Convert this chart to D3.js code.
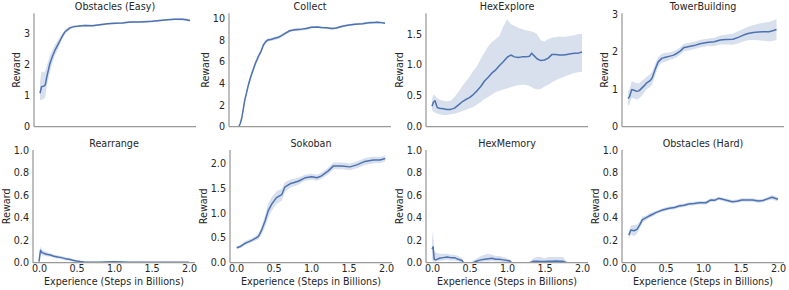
<!DOCTYPE html>
<html><head><meta charset="utf-8">
<script src="https://cdn.jsdelivr.net/npm/d3@7"></script>
<style>
body{margin:0;background:#fff}
svg text{font-family:"DejaVu Sans",sans-serif;fill:#262626}
</style>
</head><body><svg id="c" width="789" height="290"></svg>
<script>
// ---------- data ----------
const titles = ["Obstacles (Easy)", "Collect", "HexExplore", "TowerBuilding",
                "Rearrange", "Sokoban", "HexMemory", "Obstacles (Hard)"];
const xTicks = [0, 0.5, 1.0, 1.5, 2.0];
const yTicksList = [
  [0, 1, 2, 3], [0, 2, 4, 6, 8, 10], [0, 0.5, 1.0, 1.5], [0, 1, 2, 3],
  [0, 0.2, 0.4, 0.6, 0.8, 1.0], [0, 0.5, 1.0, 1.5, 2.0], [0, 0.2, 0.4, 0.6, 0.8, 1.0], [0, 0.2, 0.4, 0.6, 0.8, 1.0]
];
const yMaxList = [3.66, 10.46, 1.835, 3.02, 1.0, 2.27, 1.0, 1.0];

// Obstacles (Easy)
const x1 = [0, 0.02, 0.05, 0.07, 0.09, 0.13, 0.17, 0.2, 0.24, 0.27, 0.3, 0.33, 0.36, 0.4, 0.45, 0.5, 0.6, 0.7, 0.8, 0.9, 1.0, 1.1, 1.2, 1.3, 1.4, 1.5, 1.6, 1.7, 1.8, 1.9, 1.95, 2.0];
const m1 = [1.08, 1.29, 1.31, 1.35, 1.6, 2.02, 2.3, 2.47, 2.65, 2.79, 2.93, 3.05, 3.12, 3.19, 3.23, 3.24, 3.27, 3.26, 3.29, 3.32, 3.34, 3.35, 3.38, 3.38, 3.39, 3.40, 3.43, 3.45, 3.47, 3.47, 3.45, 3.43];
const lo1 = [0.85, 0.86, 0.9, 0.95, 1.3, 1.75, 2.1, 2.3, 2.5, 2.68, 2.85, 2.98, 3.06, 3.14, 3.19, 3.21, 3.24, 3.23, 3.26, 3.29, 3.31, 3.32, 3.35, 3.35, 3.36, 3.37, 3.40, 3.42, 3.44, 3.43, 3.41, 3.39];
const hi1 = [1.45, 1.8, 1.75, 1.8, 1.95, 2.3, 2.5, 2.65, 2.8, 2.92, 3.02, 3.12, 3.18, 3.24, 3.27, 3.28, 3.30, 3.29, 3.32, 3.35, 3.37, 3.38, 3.41, 3.41, 3.42, 3.43, 3.46, 3.48, 3.50, 3.51, 3.49, 3.47];

// Collect
const x2 = [0.05, 0.07, 0.09, 0.11, 0.13, 0.16, 0.18, 0.21, 0.24, 0.27, 0.31, 0.35, 0.38, 0.41, 0.44, 0.48, 0.53, 0.58, 0.62, 0.67, 0.73, 0.8, 0.89, 0.95, 1.02, 1.1, 1.15, 1.22, 1.29, 1.35, 1.42, 1.5, 1.6, 1.7, 1.78, 1.85, 1.89, 1.95, 2.0];
const m2 = [0.0, 0.3, 0.8, 1.6, 2.45, 3.3, 3.9, 4.6, 5.2, 5.8, 6.45, 7.0, 7.55, 7.85, 8.0, 8.05, 8.15, 8.25, 8.4, 8.6, 8.85, 8.95, 9.0, 9.05, 9.18, 9.2, 9.15, 9.12, 9.05, 9.1, 9.25, 9.35, 9.45, 9.5, 9.58, 9.6, 9.64, 9.6, 9.55];
const s2 = [0.05, 0.1, 0.15, 0.2, 0.25, 0.25, 0.25, 0.25, 0.25, 0.25, 0.25, 0.2, 0.2, 0.2, 0.15, 0.15, 0.15, 0.15, 0.15, 0.15, 0.12, 0.12, 0.12, 0.12, 0.12, 0.1, 0.1, 0.1, 0.1, 0.1, 0.1, 0.1, 0.1, 0.1, 0.1, 0.1, 0.1, 0.1, 0.1];

// HexExplore
const x3 = [0, 0.02, 0.04, 0.07, 0.1, 0.15, 0.2, 0.25, 0.3, 0.35, 0.4, 0.45, 0.5, 0.55, 0.6, 0.65, 0.7, 0.75, 0.8, 0.85, 0.9, 0.95, 1.0, 1.05, 1.1, 1.15, 1.2, 1.25, 1.3, 1.33, 1.36, 1.4, 1.45, 1.5, 1.55, 1.6, 1.65, 1.7, 1.75, 1.8, 1.85, 1.9, 1.95, 2.0];
const m3 = [0.33, 0.40, 0.42, 0.31, 0.30, 0.29, 0.28, 0.28, 0.30, 0.35, 0.40, 0.44, 0.47, 0.52, 0.58, 0.65, 0.74, 0.80, 0.87, 0.92, 0.99, 1.05, 1.12, 1.16, 1.13, 1.12, 1.13, 1.13, 1.14, 1.19, 1.15, 1.10, 1.07, 1.08, 1.11, 1.17, 1.17, 1.16, 1.16, 1.17, 1.18, 1.19, 1.19, 1.21];
const lo3 = [0.27, 0.24, 0.23, 0.21, 0.20, 0.19, 0.19, 0.20, 0.21, 0.23, 0.25, 0.27, 0.30, 0.32, 0.36, 0.40, 0.45, 0.48, 0.52, 0.56, 0.58, 0.60, 0.62, 0.64, 0.66, 0.67, 0.68, 0.68, 0.66, 0.64, 0.62, 0.60, 0.61, 0.65, 0.68, 0.72, 0.75, 0.78, 0.80, 0.83, 0.85, 0.87, 0.88, 0.89];
const hi3 = [0.45, 0.52, 0.50, 0.46, 0.44, 0.42, 0.41, 0.42, 0.48, 0.56, 0.65, 0.73, 0.81, 0.90, 0.98, 1.10, 1.20, 1.30, 1.37, 1.42, 1.47, 1.62, 1.74, 1.66, 1.63, 1.60, 1.58, 1.56, 1.55, 1.54, 1.53, 1.50, 1.40, 1.38, 1.42, 1.44, 1.45, 1.46, 1.45, 1.46, 1.47, 1.48, 1.50, 1.50];

// TowerBuilding
const x4 = [0.0, 0.02, 0.05, 0.08, 0.12, 0.15, 0.18, 0.22, 0.25, 0.29, 0.32, 0.36, 0.4, 0.45, 0.5, 0.56, 0.6, 0.65, 0.7, 0.74, 0.8, 0.88, 0.96, 1.05, 1.15, 1.23, 1.3, 1.4, 1.47, 1.54, 1.6, 1.67, 1.74, 1.8, 1.88, 1.94, 1.98];
const m4 = [0.75, 0.8, 0.99, 0.97, 0.94, 0.96, 1.02, 1.1, 1.17, 1.22, 1.29, 1.51, 1.72, 1.82, 1.85, 1.88, 1.9, 1.95, 2.02, 2.1, 2.13, 2.16, 2.21, 2.24, 2.26, 2.31, 2.32, 2.33, 2.38, 2.44, 2.48, 2.51, 2.52, 2.53, 2.53, 2.56, 2.59];
const s4 = [0.2, 0.2, 0.22, 0.22, 0.22, 0.2, 0.2, 0.18, 0.17, 0.17, 0.17, 0.15, 0.13, 0.12, 0.12, 0.1, 0.1, 0.1, 0.1, 0.1, 0.1, 0.1, 0.1, 0.1, 0.11, 0.12, 0.13, 0.15, 0.16, 0.17, 0.18, 0.2, 0.22, 0.24, 0.26, 0.27, 0.28];

// Rearrange
const x5 = [0, 0.01, 0.02, 0.04, 0.06, 0.08, 0.1, 0.15, 0.2, 0.25, 0.3, 0.35, 0.4, 0.45, 0.5, 0.55, 0.6, 0.7, 0.8, 0.9, 1.0, 1.1, 1.2, 1.3, 1.4, 1.5, 1.6, 1.7, 1.8, 1.9, 2.0];
const m5 = [0.01, 0.06, 0.11, 0.09, 0.085, 0.08, 0.075, 0.068, 0.058, 0.05, 0.045, 0.036, 0.03, 0.022, 0.015, 0.01, 0.007, 0.005, 0.005, 0.006, 0.008, 0.006, 0.005, 0.005, 0.004, 0.004, 0.004, 0.004, 0.004, 0.004, 0.004];
const s5 = [0.01, 0.03, 0.035, 0.025, 0.02, 0.02, 0.018, 0.015, 0.015, 0.015, 0.015, 0.015, 0.013, 0.012, 0.01, 0.008, 0.006, 0.004, 0.004, 0.005, 0.006, 0.005, 0.004, 0.003, 0.003, 0.003, 0.003, 0.003, 0.003, 0.003, 0.003];

// Sokoban
const x6 = [0.01, 0.05, 0.12, 0.21, 0.27, 0.3, 0.34, 0.39, 0.43, 0.48, 0.54, 0.61, 0.65, 0.72, 0.83, 0.92, 1.01, 1.08, 1.14, 1.23, 1.3, 1.41, 1.52, 1.61, 1.72, 1.83, 1.92, 1.99];
const m6 = [0.3, 0.32, 0.39, 0.45, 0.5, 0.53, 0.65, 0.85, 1.05, 1.19, 1.31, 1.37, 1.52, 1.59, 1.64, 1.71, 1.73, 1.71, 1.75, 1.85, 1.95, 1.95, 1.93, 1.97, 2.04, 2.07, 2.07, 2.1];
const s6 = [0.03, 0.03, 0.04, 0.04, 0.05, 0.06, 0.08, 0.12, 0.14, 0.14, 0.13, 0.12, 0.1, 0.08, 0.07, 0.06, 0.06, 0.06, 0.06, 0.07, 0.07, 0.07, 0.07, 0.07, 0.07, 0.07, 0.06, 0.06];

// HexMemory
const x7 = [0, 0.015, 0.02, 0.03, 0.05, 0.1, 0.15, 0.2, 0.25, 0.3, 0.35, 0.4, 0.42, 0.5, 0.55, 0.6, 0.65, 0.7, 0.75, 0.8, 0.85, 0.9, 0.95, 1.0, 1.04, 1.06, 1.2, 1.3, 1.35, 1.4, 1.45, 1.5, 1.55, 1.6, 1.65, 1.7, 1.75, 1.78, 1.8, 1.9, 2.0];
const m7 = [0.12, 0.14, 0.1, 0.03, 0.025, 0.04, 0.045, 0.05, 0.045, 0.045, 0.03, 0.02, 0.0, 0.0, 0.0, 0.015, 0.025, 0.03, 0.035, 0.04, 0.03, 0.03, 0.025, 0.02, 0.015, 0.0, 0.0, 0.0, 0.012, 0.012, 0.01, 0.01, 0.012, 0.012, 0.015, 0.012, 0.012, 0.005, 0.0, 0.0, 0.0];
const lo7 = [0.04, 0, 0, 0.01, 0.01, 0.015, 0.02, 0.025, 0.02, 0.02, 0.01, 0.005, 0, 0, 0, 0, 0.005, 0.01, 0.01, 0.015, 0.01, 0.01, 0.005, 0.005, 0, 0, 0, 0, 0, 0, 0, 0, 0, 0, 0, 0, 0, 0, 0, 0, 0];
const hi7 = [0.2, 0.29, 0.2, 0.1, 0.09, 0.08, 0.08, 0.08, 0.07, 0.07, 0.06, 0.04, 0.0, 0.0, 0.02, 0.04, 0.06, 0.07, 0.08, 0.07, 0.06, 0.06, 0.05, 0.04, 0.03, 0.0, 0.0, 0.0, 0.04, 0.05, 0.05, 0.04, 0.05, 0.05, 0.05, 0.05, 0.05, 0.02, 0.0, 0.0, 0.0];

// Obstacles (Hard)
const x8 = [0.01, 0.04, 0.08, 0.12, 0.16, 0.19, 0.23, 0.28, 0.33, 0.37, 0.42, 0.46, 0.55, 0.62, 0.68, 0.75, 0.81, 0.88, 0.95, 1.04, 1.1, 1.16, 1.21, 1.3, 1.39, 1.45, 1.52, 1.59, 1.66, 1.74, 1.8, 1.84, 1.92, 1.97, 2.0];
const m8 = [0.245, 0.29, 0.284, 0.296, 0.34, 0.38, 0.395, 0.414, 0.43, 0.444, 0.458, 0.468, 0.483, 0.49, 0.503, 0.51, 0.521, 0.525, 0.532, 0.532, 0.556, 0.555, 0.571, 0.556, 0.541, 0.545, 0.556, 0.556, 0.556, 0.547, 0.552, 0.562, 0.58, 0.57, 0.562];
const s8 = [0.03, 0.04, 0.05, 0.04, 0.03, 0.03, 0.02, 0.02, 0.02, 0.015, 0.015, 0.015, 0.015, 0.015, 0.015, 0.015, 0.015, 0.015, 0.015, 0.015, 0.015, 0.015, 0.015, 0.015, 0.015, 0.015, 0.015, 0.015, 0.015, 0.015, 0.015, 0.015, 0.02, 0.02, 0.02];

// ---------- build panel table ----------
function withBand(x, m, lo, hi) {
  return x.map((v, i) => ({x: v, m: m[i], lo: lo[i], hi: hi[i]}));
}
function withSpread(x, m, s) {
  return x.map((v, i) => ({x: v, m: m[i], lo: m[i] - s[i], hi: m[i] + s[i]}));
}
const series = [
  withBand(x1, m1, lo1, hi1),
  withSpread(x2, m2, s2),
  withBand(x3, m3, lo3, hi3),
  withSpread(x4, m4, s4),
  withSpread(x5, m5, s5),
  withSpread(x6, m6, s6),
  withBand(x7, m7, lo7, hi7),
  withSpread(x8, m8, s8)
];

// ---------- layout ----------
const lefts = [[34, 229, 426, 622], [33, 230, 426, 622]];
const rowsY = [[13.3, 126.7], [150, 262.7]];
const W = 162;
const FS = 9.6;
const COLOR = "#4c72b0";

const svg = d3.select("#c");
const defs = svg.append("defs");

series.forEach((data, i) => {
  const row = i < 4 ? 0 : 1, col = i % 4;
  const x0 = lefts[row][col], [yT, yB] = rowsY[row];
  const xs = d3.scaleLinear().domain([-0.08, 2.08]).range([x0, x0 + W]);
  const ys = d3.scaleLinear().domain([0, yMaxList[i]]).range([yB, yT]);
  const g = svg.append("g");

  defs.append("clipPath").attr("id", "clip" + i)
    .append("rect").attr("x", x0).attr("y", yT).attr("width", W).attr("height", yB - yT);

  const plot = g.append("g").attr("clip-path", `url(#clip${i})`);
  plot.append("path").datum(data)
    .attr("d", d3.area().x(d => xs(d.x)).y0(d => ys(d.lo)).y1(d => ys(d.hi)))
    .attr("fill", COLOR).attr("fill-opacity", 0.22).attr("stroke", "none");
  plot.append("path").datum(data)
    .attr("d", d3.line().x(d => xs(d.x)).y(d => ys(d.m)))
    .attr("fill", "none").attr("stroke", COLOR).attr("stroke-width", 1.5)
    .attr("stroke-linejoin", "round");

  // y axis
  const fmt = Number.isInteger(yTicksList[i][1]) ? d3.format("d") : d3.format(".1f");
  const ya = g.append("g").attr("transform", `translate(${x0},0)`)
    .call(d3.axisLeft(ys).tickValues(yTicksList[i]).tickSize(0).tickPadding(4).tickFormat(fmt));
  ya.select(".domain").remove();
  ya.selectAll("text").attr("font-size", FS).attr("font-family", "DejaVu Sans").attr("fill", "#262626");
  ya.attr("font-size", null).attr("font-family", null);

  let maxW = 0;
  ya.selectAll("text").each(function () { maxW = Math.max(maxW, this.getBBox().width); });

  // x axis (labels only on bottom row)
  const xa = g.append("g").attr("transform", `translate(0,${yB})`)
    .call(d3.axisBottom(xs).tickValues(xTicks).tickSize(0).tickPadding(2.5).tickFormat(d3.format(".1f")));
  xa.select(".domain").remove();
  xa.attr("font-size", null).attr("font-family", null);
  if (row === 0) xa.selectAll("text").remove();
  else xa.selectAll("text").attr("font-size", FS).attr("fill", "#262626");

  // spines
  g.append("line").attr("x1", x0).attr("x2", x0).attr("y1", yT).attr("y2", yB)
    .attr("stroke", "#999").attr("stroke-width", 1.25);
  g.append("line").attr("x1", x0).attr("x2", x0 + W).attr("y1", yB).attr("y2", yB)
    .attr("stroke", "#999").attr("stroke-width", 1.25);

  // title
  g.append("text").attr("x", x0 + W / 2).attr("y", yT - 3.3)
    .attr("text-anchor", "middle").attr("font-size", FS).text(titles[i]);

  // y label
  const lx = x0 - 4 - maxW - 3.5, ly = (yT + yB) / 2;
  g.append("text").attr("transform", `translate(${lx},${ly}) rotate(-90)`)
    .attr("text-anchor", "middle").attr("font-size", FS).text("Reward");

  // x label
  if (row === 1) {
    g.append("text").attr("x", x0 + W / 2).attr("y", 284.5)
      .attr("text-anchor", "middle").attr("font-size", FS).text("Experience (Steps in Billions)");
  }
});
</script>
</body></html>
